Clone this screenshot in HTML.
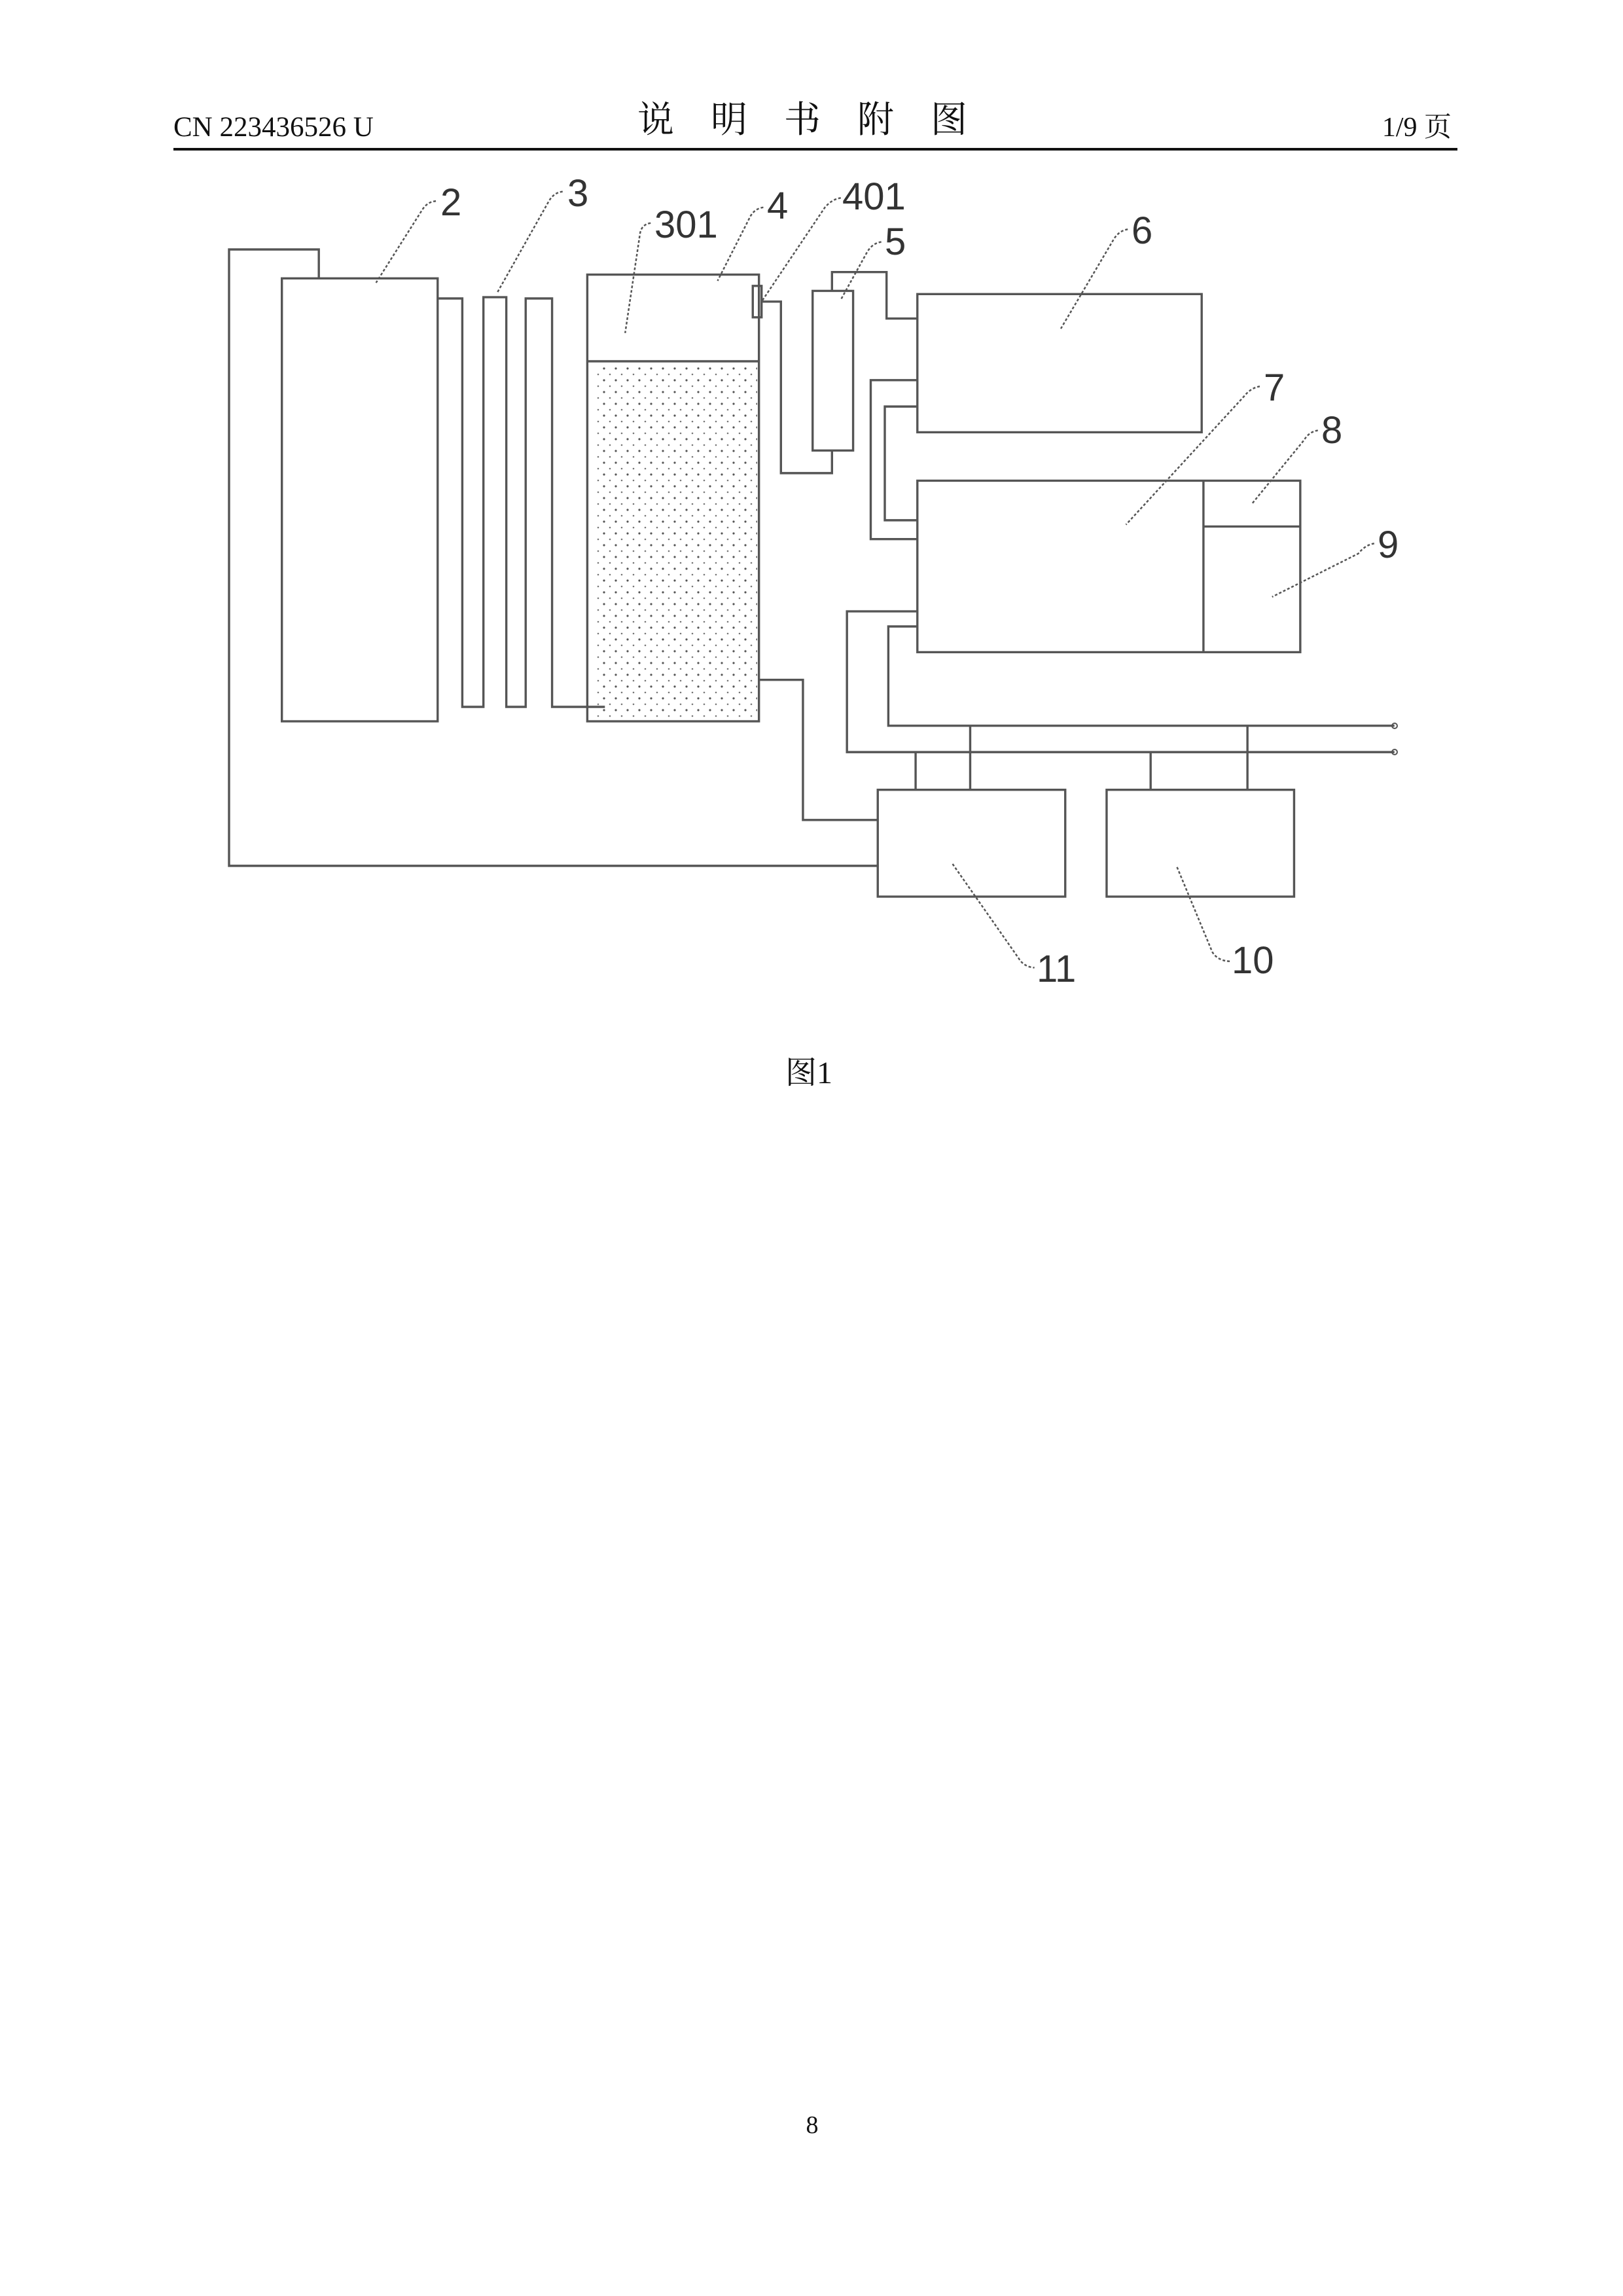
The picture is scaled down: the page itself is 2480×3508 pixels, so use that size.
<!DOCTYPE html>
<html><head><meta charset="utf-8"><style>
html,body{margin:0;padding:0;background:#fff;}
body{width:2480px;height:3508px;position:relative;overflow:hidden;}
svg{position:absolute;left:0;top:0;}
</style></head><body>
<svg width="2480" height="3508" viewBox="0 0 2480 3508" xmlns="http://www.w3.org/2000/svg">
<defs>
<pattern id="dots" width="18" height="18" patternUnits="userSpaceOnUse">
<circle cx="5" cy="5" r="1.6" fill="#555"/>
<circle cx="14" cy="14" r="1.3" fill="#777"/>
</pattern>
</defs>
<text x="265" y="208" font-family="Liberation Serif, serif" font-size="43" fill="#111">CN 223436526 U</text>
<text x="1254" y="202" text-anchor="middle" font-family="Liberation Serif, 'Noto Serif CJK SC', serif" font-size="56" fill="#111" letter-spacing="56">说明书附图</text>
<text x="2218" y="208" text-anchor="end" font-family="Liberation Serif, 'Noto Serif CJK SC', serif" font-size="42" fill="#111">1/9 页</text>
<rect x="265" y="226" width="1962" height="4" fill="#111"/>

<rect x="908" y="557" width="249" height="542" fill="url(#dots)"/>

<g transform="translate(198,120) scale(1.345,0.96)">
<g fill="none" stroke="#555" stroke-width="3.4">
<rect x="173" y="318" width="177" height="705" vector-effect="non-scaling-stroke"/>
<path d="M215 318 V272 H113 V1253 H850" vector-effect="non-scaling-stroke"/>
<path d="M350 350 H378 V1000 H402 V348 H428 V1000 H450 V350 H480 V1000 H540" vector-effect="non-scaling-stroke"/>
<rect x="520" y="312" width="195" height="711" vector-effect="non-scaling-stroke"/>
<line x1="520" y1="450" x2="715" y2="450" vector-effect="non-scaling-stroke"/>
<rect x="708" y="330" width="10" height="50" vector-effect="non-scaling-stroke"/>
<path d="M718 355 H740 V628 H798 V592" vector-effect="non-scaling-stroke"/>
<rect x="776" y="338" width="46" height="254" vector-effect="non-scaling-stroke"/>
<path d="M798 338 V308 H860 V382 H895" vector-effect="non-scaling-stroke"/>
<rect x="895" y="343" width="323" height="220" vector-effect="non-scaling-stroke"/>
<rect x="895" y="640" width="435" height="273" vector-effect="non-scaling-stroke"/>
<line x1="1220" y1="640" x2="1220" y2="913" vector-effect="non-scaling-stroke"/>
<line x1="1220" y1="713" x2="1330" y2="713" vector-effect="non-scaling-stroke"/>
<path d="M895 480 H842 V733 H895" vector-effect="non-scaling-stroke"/>
<path d="M895 522 H858 V703 H895" vector-effect="non-scaling-stroke"/>
<path d="M895 848 H815 V1072 H1437" vector-effect="non-scaling-stroke"/>
<path d="M895 872 H862 V1030 H1437" vector-effect="non-scaling-stroke"/>
<rect x="850" y="1132" width="213" height="170" vector-effect="non-scaling-stroke"/>
<rect x="1110" y="1132" width="213" height="170" vector-effect="non-scaling-stroke"/>
<path d="M893 1072 V1132 M955 1030 V1132 M1160 1072 V1132 M1270 1030 V1132" vector-effect="non-scaling-stroke"/>
<path d="M715 957 H765 V1180 H850" vector-effect="non-scaling-stroke"/>
</g>
<g fill="none" stroke="#555" stroke-width="2.5" stroke-dasharray="4 3">
<path d="M348 195 Q338 196 332 210 L280 325" vector-effect="non-scaling-stroke"/>
<path d="M492 180 Q482 181 476 196 L418 340" vector-effect="non-scaling-stroke"/>
<path d="M592 230 Q582 232 580 246 L563 405" vector-effect="non-scaling-stroke"/>
<path d="M720 205 Q710 207 705 220 L668 322" vector-effect="non-scaling-stroke"/>
<path d="M808 190 Q798 192 790 205 L718 355" vector-effect="non-scaling-stroke"/>
<path d="M854 260 Q844 262 838 276 L808 352" vector-effect="non-scaling-stroke"/>
<path d="M1134 240 Q1124 242 1118 256 L1058 398" vector-effect="non-scaling-stroke"/>
<path d="M1284 490 Q1274 492 1266 506 L1132 710" vector-effect="non-scaling-stroke"/>
<path d="M1350 560 Q1340 562 1334 576 L1275 677" vector-effect="non-scaling-stroke"/>
<path d="M1414 740 Q1404 742 1396 756 L1298 825" vector-effect="non-scaling-stroke"/>
<path d="M935 1250 L1010 1400 Q1016 1414 1028 1415" vector-effect="non-scaling-stroke"/>
<path d="M1190 1255 L1230 1390 Q1236 1404 1250 1405" vector-effect="non-scaling-stroke"/>
</g>
</g>
<circle cx="2131" cy="1109" r="4" fill="none" stroke="#555" stroke-width="2"/>
<circle cx="2131" cy="1149" r="4" fill="none" stroke="#555" stroke-width="2"/>

<g font-family="Liberation Sans, sans-serif" font-size="58" fill="#333">
<text x="673" y="329">2</text>
<text x="867" y="315">3</text>
<text x="1000" y="363">301</text>
<text x="1172" y="334">4</text>
<text x="1287" y="320">401</text>
<text x="1352" y="389">5</text>
<text x="1729" y="372">6</text>
<text x="1931" y="612">7</text>
<text x="2019" y="677">8</text>
<text x="2105" y="852">9</text>
<text x="1584" y="1500">11</text>
<text x="1882" y="1487">10</text>
</g>
<text x="1236" y="1655" text-anchor="middle" font-family="Liberation Serif, 'Noto Serif CJK SC', serif" font-size="48" fill="#111">图1</text>
<text x="1241" y="3259" text-anchor="middle" font-family="Liberation Serif, serif" font-size="38" fill="#111">8</text>
</svg>
</body></html>
